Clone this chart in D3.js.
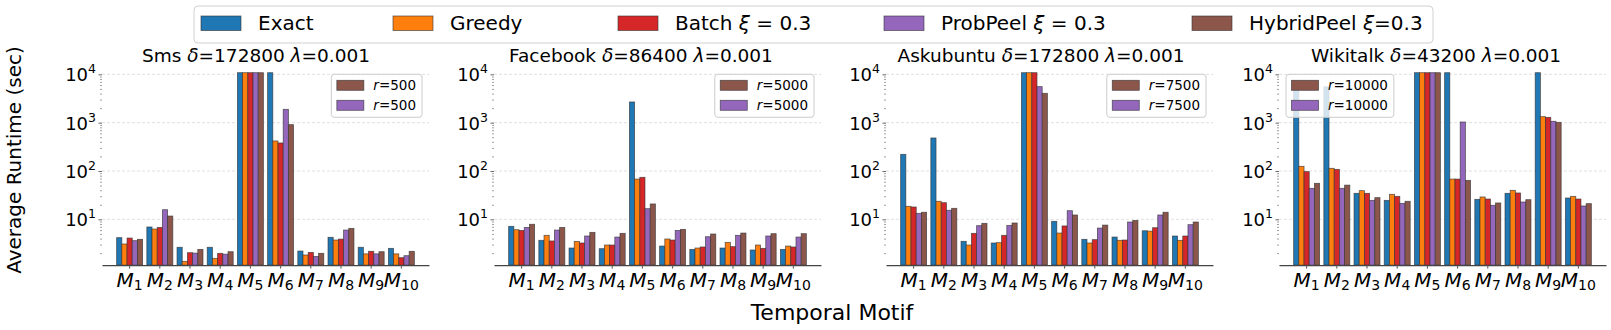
<!DOCTYPE html>
<html><head><meta charset="utf-8">
<script src="https://cdn.jsdelivr.net/npm/d3@7"></script>
<style>
body{margin:0;background:#fff;}
text{font-family:"DejaVu Sans",sans-serif;fill:#000;}
</style>
</head><body>
<svg id="chart" width="1611" height="330"></svg>
<script>
// ---------------- data ----------------
const TIMEOUT = 10800; // 3h timeout, drawn to the top of the axis
const categories = ["1","2","3","4","5","6","7","8","9","10"]; // motif index M_k
const seriesNames = ["Exact","Greedy","Batch","ProbPeel","HybridPeel"];
const seriesColors = ["#1f77b4","#ff7f0e","#d62728","#9467bd","#8c564b"];
const datasetNames = ["Sms","Facebook","Askubuntu","Wikitalk"];
const deltas = ["172800","86400","172800","43200"];
const lambdas = ["0.001","0.001","0.001","0.001"];
const rValues = ["500","5000","7500","10000"];
const yTickValues = [10,100,1000,10000];
const yTickExponents = ["1","2","3","4"];

// values per dataset: [Exact, Greedy, Batch, ProbPeel, HybridPeel] x M1..M10
const smsValues = [
  [4.18, 6.94, 2.64, 2.64, TIMEOUT, TIMEOUT, 2.21, 4.25, 2.64, 2.51],
  [3.09, 6.3, 1.35, 1.56, TIMEOUT, 418, 1.83, 3.73, 1.93, 1.93],
  [4.1, 6.8, 2.04, 1.98, TIMEOUT, 380, 2.07, 3.9, 2.18, 1.61],
  [3.62, 15.8, 2.0, 1.9, TIMEOUT, 1888, 1.71, 6.0, 1.93, 1.77],
  [3.86, 11.7, 2.39, 2.14, TIMEOUT, 909, 1.98, 6.5, 2.14, 2.18]
];
const facebookValues = [
  [7.16, 3.68, 2.55, 2.47, 2679, 2.8, 2.39, 2.55, 2.32, 2.39],
  [6.1, 4.67, 3.5, 2.94, 68, 3.92, 2.55, 3.34, 2.94, 2.8],
  [5.9, 3.57, 3.24, 2.94, 74, 3.73, 2.68, 2.72, 2.51, 2.68],
  [6.8, 6.0, 4.52, 4.3, 16.6, 5.9, 4.37, 4.67, 4.52, 4.3],
  [7.9, 6.8, 5.38, 5.13, 20.8, 6.2, 4.97, 5.2, 5.05, 5.05]
];
const askubuntuValues = [
  [221, 482, 3.51, 3.24, TIMEOUT, 9.1, 3.86, 4.3, 5.8, 4.52],
  [18.6, 23.6, 2.94, 3.29, TIMEOUT, 5.2, 3.24, 3.68, 5.7, 3.68],
  [18.0, 22.1, 5.13, 4.67, TIMEOUT, 7.3, 3.8, 3.73, 6.7, 4.52],
  [13.3, 15.4, 7.4, 7.5, 5559, 15.1, 6.6, 8.8, 12.3, 7.76],
  [14.0, 16.9, 8.26, 8.4, 4045, 12.3, 7.6, 9.5, 14.0, 8.8]
];
const wikitalkValues = [
  [4900, 5500, 34.5, 24.7, TIMEOUT, TIMEOUT, 25.9, 34.5, TIMEOUT, 27.6],
  [125, 113.6, 39.2, 32.9, TIMEOUT, 68, 29, 39.8, 1331, 29.9],
  [97, 108, 34.5, 29.9, TIMEOUT, 68, 26.3, 35.1, 1288, 26.3],
  [43.8, 43.8, 24.7, 21.4, TIMEOUT, 1032, 19.5, 22.8, 1067, 18.9],
  [55.6, 51, 28.1, 23.6, TIMEOUT, 64, 21.8, 25.5, 1016, 21.1]
];
const allValues = [smsValues, facebookValues, askubuntuValues, wikitalkValues];

// ---------------- layout ----------------
const svg = d3.select("#chart");
const panelLeft = [102, 494, 886, 1279];
const panelW = 327;
const plotTop = 72.7, plotBottom = 265.1;
const titleX = [256, 641, 1041, 1436];
const legendLoc = ["right","right","right","left"];

const y = d3.scaleLog().domain([1.13, TIMEOUT]).range([plotBottom, plotTop]);

const minorTicks = [];
for (let e = 0; e <= 3; e++) for (let m = 2; m <= 9; m++) { const v = m * Math.pow(10, e); if (v >= 1.13) minorTicks.push(v); }

allValues.forEach((vals, pi) => {
  const g = svg.append("g").attr("transform", `translate(${panelLeft[pi]},0)`);
  const x = d3.scaleBand().domain(categories).range([0, panelW]).paddingInner(0).paddingOuter(0.415);
  const step = x.step();
  const xs = d3.scaleBand().domain(seriesNames)
    .range([x.bandwidth()/2 - 0.43*step, x.bandwidth()/2 + 0.43*step]).padding(0);

  // grid
  g.selectAll("line.grid").data(yTickValues).enter().append("line")
    .attr("x1", 0).attr("x2", panelW).attr("y1", d => y(d)).attr("y2", d => y(d))
    .attr("stroke", "#d8d8d8").attr("stroke-width", 0.8).attr("stroke-dasharray", "3,2");

  // bars
  seriesNames.forEach((s, si) => {
    g.append("g").selectAll("rect").data(vals[si]).enter().append("rect")
      .attr("x", (d, i) => x(categories[i]) + xs(s))
      .attr("y", d => y(d))
      .attr("width", xs.bandwidth())
      .attr("height", d => plotBottom - y(d))
      .attr("fill", seriesColors[si])
      .attr("stroke", "#333").attr("stroke-opacity", 0.75).attr("stroke-width", 0.8);
  });

  // y axis (major + minor ticks, no spine)
  const yMaj = g.append("g").call(d3.axisLeft(y).tickValues(yTickValues).tickFormat("").tickSize(3.5).tickSizeOuter(0));
  yMaj.select(".domain").remove();
  yMaj.selectAll("line").attr("stroke", "#666");
  const yMin = g.append("g").call(d3.axisLeft(y).tickValues(minorTicks).tickFormat("").tickSize(2).tickSizeOuter(0));
  yMin.select(".domain").remove();
  yMin.selectAll("line").attr("stroke", "#888").attr("stroke-width", 0.8);

  yTickValues.forEach((v, k) => {
    const t = g.append("text").attr("x", -6).attr("y", y(v) + 7).attr("text-anchor", "end").attr("font-size", 18);
    t.append("tspan").text("10");
    t.append("tspan").attr("font-size", 12.5).attr("dy", -8).text(yTickExponents[k]);
  });

  // x axis
  const xa = g.append("g").attr("transform", `translate(0,${plotBottom})`)
    .call(d3.axisBottom(x).tickSize(3.5).tickSizeOuter(0).tickFormat(""));
  xa.select(".domain").attr("stroke", "#444").attr("stroke-width", 1.2);
  xa.selectAll("line").attr("stroke", "#555");
  categories.forEach(c => {
    const t = g.append("text").attr("x", x(c) + x.bandwidth()/2).attr("y", 287)
      .attr("text-anchor", "middle").attr("font-size", 20);
    t.append("tspan").attr("font-style", "italic").text("M");
    t.append("tspan").attr("font-size", 14).attr("dy", 3).text(c);
  });

  // title
  const tt = svg.append("text").attr("x", titleX[pi]).attr("y", 62).attr("text-anchor", "middle").attr("font-size", 18.5);
  tt.append("tspan").text(datasetNames[pi] + " ");
  tt.append("tspan").attr("font-style", "italic").text("δ");
  tt.append("tspan").text("=" + deltas[pi] + " ");
  tt.append("tspan").attr("font-style", "italic").text("λ");
  tt.append("tspan").text("=" + lambdas[pi]);

  // inner legend
  const lg = g.append("g");
  const box = lg.append("rect").attr("rx", 3).attr("fill", "#fff").attr("fill-opacity", 0.8)
    .attr("stroke", "#ccc").attr("stroke-width", 1);
  const entries = [4, 3];
  let maxW = 0;
  entries.forEach((si, k) => {
    lg.append("rect").attr("x", 5.5).attr("y", 6 + k*20).attr("width", 27).attr("height", 10)
      .attr("fill", seriesColors[si]).attr("stroke", "#333").attr("stroke-opacity", 0.75).attr("stroke-width", 0.8);
    const t = lg.append("text").attr("x", 42).attr("y", 16 + k*20).attr("font-size", 13.5);
    t.append("tspan").attr("font-style", "italic").text("r");
    t.append("tspan").text("=" + rValues[pi]);
    maxW = Math.max(maxW, t.node().getComputedTextLength());
  });
  const bw = 42 + maxW + 6;
  box.attr("x", 0).attr("y", 0).attr("width", bw).attr("height", 43);
  const lx = legendLoc[pi] === "right" ? panelW - 7 - bw : 7;
  lg.attr("transform", `translate(${lx},${plotTop + 1.6})`);
});

// top legend
const tl = svg.append("g");
tl.append("rect").attr("x", 194).attr("y", 6).attr("width", 1239).attr("height", 37).attr("rx", 4)
  .attr("fill", "#fff").attr("stroke", "#d0d0d0").attr("stroke-width", 1);
const topPatchX = [201, 393, 618, 884, 1192];
const topLabelParts = [
  [["Exact", false]],
  [["Greedy", false]],
  [["Batch ", false], ["ξ", true], [" = 0.3", false]],
  [["ProbPeel ", false], ["ξ", true], [" = 0.3", false]],
  [["HybridPeel ", false], ["ξ", true], ["=0.3", false]]
];
seriesNames.forEach((s, si) => {
  tl.append("rect").attr("x", topPatchX[si]).attr("y", 16).attr("width", 40).attr("height", 14.5)
    .attr("fill", seriesColors[si]).attr("stroke", "#333").attr("stroke-opacity", 0.75).attr("stroke-width", 0.8);
  const t = tl.append("text").attr("x", topPatchX[si] + 57).attr("y", 30).attr("font-size", 20).attr("xml:space", "preserve");
  topLabelParts[si].forEach(p => t.append("tspan").attr("font-style", p[1] ? "italic" : "normal").text(p[0]));
});

// axis titles
svg.append("text").attr("transform", "translate(21,160) rotate(-90)").attr("text-anchor", "middle")
  .attr("font-size", 20).text("Average Runtime (sec)");
svg.append("text").attr("x", 832).attr("y", 320).attr("text-anchor", "middle")
  .attr("font-size", 22).text("Temporal Motif");
</script>
</body></html>
